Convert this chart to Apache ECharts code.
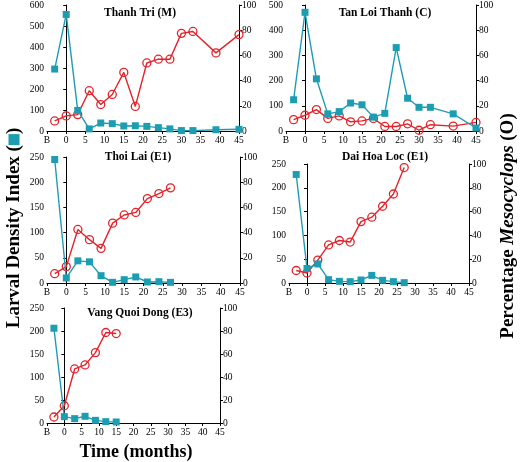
<!DOCTYPE html>
<html>
<head>
<meta charset="utf-8">
<script src="https://cdn.jsdelivr.net/npm/echarts@6/dist/echarts.min.js"></script>
<style>html,body{margin:0;padding:0;background:#fff;}#c{width:520px;height:462px;}</style>
</head>
<body>
<div id="c"></div>
<script>
// ---- data ----
const siteNames = ['Thanh Tri (M)', 'Tan Loi Thanh (C)', 'Thoi Lai (E1)', 'Dai Hoa Loc (E1)', 'Vang Quoi Dong (E3)'];
const monthsLong = [-3, 0, 3, 6, 9, 12, 15, 18, 21, 24, 27, 30, 33, 39, 45];
const monthsMid = [-3, 0, 3, 6, 9, 12, 15, 18, 21, 24, 27];
const monthsShort = [-3, 0, 3, 6, 9, 12, 15];
const xTicks = [-5, 0, 5, 10, 15, 20, 25, 30, 35, 40, 45]; // -5 shown as "B"

const thanhTriLarval = [295, 555, 98, 10, 38, 35, 24, 25, 22, 16, 10, 2, 2, 6, 8];
const thanhTriMeso   = [8, 12, 13, 32, 21, 29, 46.5, 19.5, 54, 57, 57, 77.5, 79, 62, 76.5];
const tanLoiLarval   = [124, 471, 207, 68, 77, 111, 104, 55, 70, 331, 130, 94, 94, 68, 12];
const tanLoiMeso     = [9, 12.5, 17, 10, 12, 7.3, 8, 10, 3.6, 3.6, 5.7, 0.6, 5, 3.9, 6.8];
const thoiLaiLarval  = [245, 10, 44, 42, 14.5, 1.3, 6.6, 12, 2, 2.6, 1.3];
const thoiLaiMeso    = [7.4, 13, 42.5, 34.4, 27.5, 47.5, 54, 56, 67, 71, 75.5];
const daiHoaLarval   = [228, 30.5, 40, 7, 3.5, 2.8, 6.3, 16, 5.6, 2.8, 0.7];
const daiHoaMeso     = [10.5, 8.4, 19.3, 32, 35.7, 34.4, 51.6, 55.3, 64.5, 74.8, 97];
const vangLarval     = [206, 13.8, 9.5, 14.6, 5.8, 2.9, 2.2];
const vangMeso       = [5.2, 15, 47, 50.5, 61.2, 78.7, 77.8];

const leftMax = [600, 500, 250, 250, 250];
const leftInterval = [100, 100, 50, 50, 50];

const panels = [
  { months: monthsLong, larval: thanhTriLarval, meso: thanhTriMeso },
  { months: monthsLong, larval: tanLoiLarval, meso: tanLoiMeso },
  { months: monthsMid, larval: thoiLaiLarval, meso: thoiLaiMeso },
  { months: monthsMid, larval: daiHoaLarval, meso: daiHoaMeso },
  { months: monthsShort, larval: vangLarval, meso: vangMeso }
];

// ---- layout ----
const grids = [
  { left: 47, top: 4, width: 192, height: 127 },
  { left: 286, top: 3, width: 190, height: 128 },
  { left: 47, top: 157, width: 193, height: 126 },
  { left: 289, top: 164, width: 180, height: 119 },
  { left: 47, top: 308, width: 173, height: 115 }
];
const titlePos = [[140, 13], [385, 13], [138, 157], [385, 157], [140, 313]];

const TEAL = '#1d9db2';
const RED = '#e3232b';
const FONT = '"Liberation Serif", "DejaVu Serif", serif';

const axisLine = { show: true, lineStyle: { color: '#000', width: 1 } };
const axisTick = { show: true, length: 3, lineStyle: { color: '#000' } };
const labelStyle = { color: '#000', fontFamily: FONT, fontSize: 9.5 };

const xAxis = [], yAxis = [], series = [], graphic = [];
grids.forEach((g, i) => {
  xAxis.push({
    gridIndex: i, type: 'value', min: -5, max: 45, interval: 5,
    axisLine, axisTick, splitLine: { show: false },
    axisLabel: Object.assign({ margin: 4, formatter: v => (v === xTicks[0] ? 'B' : String(v)) }, labelStyle)
  });
  yAxis.push({
    gridIndex: i, type: 'value', min: 0, max: leftMax[i], interval: leftInterval[i], position: 'left',
    axisLine, axisTick, splitLine: { show: false },
    axisLabel: Object.assign({ margin: 3 }, labelStyle)
  });
  yAxis.push({
    gridIndex: i, type: 'value', min: 0, max: 100, interval: 20, position: 'right',
    axisLine, axisTick, splitLine: { show: false },
    axisLabel: Object.assign({ margin: 3 }, labelStyle)
  });
  const p = panels[i];
  series.push({
    type: 'line', xAxisIndex: i, yAxisIndex: 2 * i + 1,
    data: p.months.map((m, k) => [m, p.meso[k]]),
    symbol: 'circle', symbolSize: 8, showAllSymbol: true,
    lineStyle: { color: RED, width: 1.4 },
    itemStyle: { color: 'rgba(0,0,0,0)', borderColor: RED, borderWidth: 1.3 },
    silent: true, animation: false, z: 2
  });
  series.push({
    type: 'line', xAxisIndex: i, yAxisIndex: 2 * i,
    data: p.months.map((m, k) => [m, p.larval[k]]),
    symbol: 'rect', symbolSize: 7, showAllSymbol: true,
    lineStyle: { color: TEAL, width: 1.4 },
    itemStyle: { color: TEAL },
    silent: true, animation: false, z: 3
  });
  graphic.push({
    type: 'text', x: titlePos[i][0], y: titlePos[i][1],
    style: { text: siteNames[i], font: 'bold 11.5px ' + FONT, fill: '#000', textAlign: 'center', textVerticalAlign: 'middle' },
    z: 10
  });
});

graphic.push({
  type: 'text', x: 136, y: 452,
  style: { text: 'Time (months)', font: 'bold 18px ' + FONT, fill: '#000', textAlign: 'center', textVerticalAlign: 'middle' }
});
graphic.push({
  type: 'text', x: 14, y: 228, rotation: Math.PI / 2,
  style: {
    text: '{a|Larval Density Index (}{sq| }{a|)}',
    textAlign: 'center', textVerticalAlign: 'middle',
    rich: {
      a: { font: 'bold 19px ' + FONT, color: '#000' },
      sq: { width: 11, height: 11, backgroundColor: TEAL }
    }
  }
});
graphic.push({
  type: 'text', x: 508, y: 226, rotation: Math.PI / 2,
  style: {
    text: '{a|Percentage }{i|Mesocyclops}{r| (O)}',
    textAlign: 'center', textVerticalAlign: 'middle',
    rich: {
      a: { font: 'bold 19px ' + FONT, color: '#000' },
      i: { font: 'italic bold 19px ' + FONT, color: '#000' },
      r: { font: 'bold 19px ' + FONT, color: RED }
    }
  }
});

const chart = echarts.init(document.getElementById('c'), null, { renderer: 'canvas' });
chart.setOption({
  backgroundColor: '#fff',
  animation: false,
  grid: grids.map(g => Object.assign({ containLabel: false }, g)),
  xAxis, yAxis, series, graphic
});
</script>
</body>
</html>
